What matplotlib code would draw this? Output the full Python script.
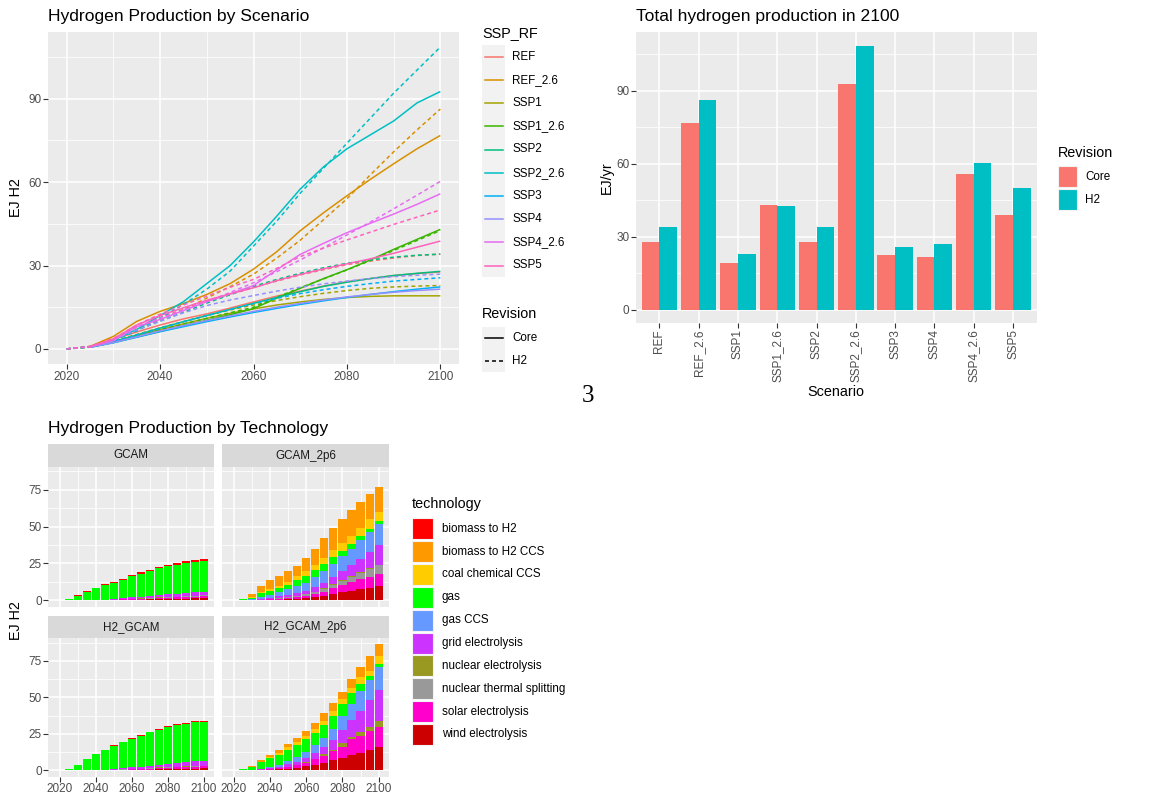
import matplotlib
matplotlib.use("Agg")
import matplotlib.pyplot as plt
from matplotlib.patches import Rectangle
import numpy as np

plt.rcParams['font.family'] = ['Liberation Sans', 'DejaVu Sans']

# ---------------------------------------------------------------- data
years_core = [2025, 2030, 2035, 2040, 2045, 2050, 2055, 2060,
              2065, 2070, 2075, 2080, 2085, 2090, 2095, 2100]
years_h2 = [2020] + years_core

scenarios = ["REF", "REF_2.6", "SSP1", "SSP1_2.6", "SSP2",
             "SSP2_2.6", "SSP3", "SSP4", "SSP4_2.6", "SSP5"]
scenario_colors = ["#F8766D", "#D89000", "#A3A500", "#39B600", "#00BF7D",
                   "#00BFC4", "#00B0F6", "#9590FF", "#E76BF3", "#FF62BC"]

# Core revision, 2025-2100
core_REF = [0.9, 3.4, 6.1, 8.6, 10.8, 12.6, 14.7, 16.9, 19.0, 20.8, 22.6, 24.2, 25.3, 26.4, 27.1, 27.7]
core_REF_26 = [0.9, 4.5, 9.9, 13.5, 16.3, 19.6, 23.5, 28.7, 35.0, 42.5, 49.0, 55.1, 61.0, 66.6, 72.0, 76.8]
core_SSP1 = [0.7, 2.6, 4.8, 7.0, 9.0, 11.0, 12.8, 14.4, 15.8, 16.9, 17.8, 18.5, 18.9, 19.1, 19.1, 19.1]
core_SSP1_26 = [0.6, 2.3, 4.3, 6.3, 8.3, 10.3, 12.3, 14.5, 18.3, 21.8, 25.3, 28.5, 32.0, 35.8, 39.4, 43.0]
core_SSP2 = [0.7, 2.6, 5.0, 7.5, 9.8, 12.0, 14.2, 16.4, 18.5, 20.6, 22.5, 24.0, 25.3, 26.4, 27.2, 27.9]
core_SSP2_26 = [0.8, 3.2, 7.0, 12.0, 17.0, 23.5, 30.0, 38.5, 47.8, 57.5, 65.5, 72.0, 77.0, 82.0, 88.5, 92.6]
core_SSP3 = [0.6, 2.2, 4.2, 6.2, 8.0, 9.8, 11.5, 13.1, 14.6, 16.0, 17.3, 18.5, 19.6, 20.6, 21.5, 22.3]
core_SSP4 = [0.6, 2.3, 4.4, 6.5, 8.4, 10.2, 11.9, 13.5, 15.0, 16.4, 17.6, 18.7, 19.6, 20.4, 21.0, 21.5]
core_SSP4_26 = [0.8, 3.0, 8.0, 10.6, 13.8, 17.0, 19.8, 22.8, 28.5, 34.0, 38.0, 41.8, 45.2, 48.5, 52.0, 55.8]
core_SSP5 = [0.8, 3.6, 8.6, 12.0, 14.8, 17.5, 19.8, 22.0, 24.6, 26.8, 28.8, 30.6, 32.4, 34.4, 36.6, 38.8]

# H2 revision, 2020-2100
h2_REF = [0.0, 0.9, 3.8, 7.7, 11.3, 14.2, 17.2, 19.6, 22.1, 24.4, 26.6, 28.5, 30.3, 31.6, 32.7, 33.6, 34.1]
h2_REF_26 = [0.0, 0.9, 2.9, 6.8, 10.6, 14.0, 18.3, 22.4, 26.9, 32.7, 39.1, 46.5, 54.0, 62.6, 70.9, 78.8, 86.3]
h2_SSP1 = [0.0, 0.7, 2.8, 5.2, 7.6, 9.8, 12.0, 14.0, 15.8, 17.4, 18.8, 20.0, 21.0, 21.8, 22.3, 22.6, 22.8]
h2_SSP1_26 = [0.0, 0.6, 2.5, 4.6, 6.8, 8.9, 11.0, 13.0, 15.0, 18.6, 22.0, 25.2, 28.4, 31.8, 35.4, 39.0, 42.6]
h2_SSP2 = [0.0, 0.8, 3.3, 6.8, 10.0, 13.2, 16.5, 19.5, 22.5, 25.0, 27.2, 29.2, 30.8, 32.0, 33.0, 33.7, 34.1]
h2_SSP2_26 = [0.0, 0.8, 3.0, 6.5, 11.0, 16.0, 21.5, 28.0, 37.0, 46.0, 56.0, 65.0, 74.0, 83.0, 92.0, 100.3, 108.6]
h2_SSP3 = [0.0, 0.7, 2.6, 5.0, 7.4, 9.8, 12.0, 14.2, 16.3, 18.2, 19.9, 21.3, 22.5, 23.5, 24.4, 25.0, 25.6]
h2_SSP4 = [0.0, 0.8, 3.3, 6.8, 10.0, 13.0, 15.6, 17.6, 19.2, 20.8, 22.2, 23.4, 24.4, 25.3, 26.0, 26.5, 26.9]
h2_SSP4_26 = [0.0, 0.8, 3.4, 8.0, 11.0, 14.0, 17.0, 20.3, 23.8, 27.8, 32.0, 36.4, 41.0, 45.6, 50.4, 55.3, 60.3]
h2_SSP5 = [0.0, 0.8, 3.6, 8.6, 12.5, 15.8, 19.0, 22.2, 25.0, 29.0, 33.2, 36.3, 39.2, 42.0, 44.8, 47.4, 50.0]

core_series = [core_REF, core_REF_26, core_SSP1, core_SSP1_26, core_SSP2,
               core_SSP2_26, core_SSP3, core_SSP4, core_SSP4_26, core_SSP5]
h2_series = [h2_REF, h2_REF_26, h2_SSP1, h2_SSP1_26, h2_SSP2,
             h2_SSP2_26, h2_SSP3, h2_SSP4, h2_SSP4_26, h2_SSP5]

revisions = ["Core", "H2"]
revision_colors = ["#F8766D", "#00BFC4"]

# Technology mix by model run (EJ), 2025-2100
technologies = ["biomass to H2", "biomass to H2 CCS", "coal chemical CCS", "gas",
                "gas CCS", "grid electrolysis", "nuclear electrolysis",
                "nuclear thermal splitting", "solar electrolysis", "wind electrolysis"]
tech_colors = ["#FF0000", "#FF9900", "#FFCC00", "#00FF00", "#6699FF",
               "#CC33FF", "#999922", "#999999", "#FF00CC", "#CC0000"]

gcam = {
    "biomass to H2":             [0.1, 0.3, 0.4, 0.5, 0.6, 0.6, 0.7, 0.7, 0.8, 0.8, 0.9, 0.9, 1.0, 1.0, 1.1, 1.2],
    "biomass to H2 CCS":         [0.0] * 16,
    "coal chemical CCS":         [0.0] * 16,
    "gas":                       [0.8, 3.1, 5.6, 7.7, 9.7, 11.0, 12.55, 14.25, 15.8, 17.2, 18.15, 19.3, 19.9, 20.4, 20.6, 20.5],
    "gas CCS":                   [0.0] * 16,
    "grid electrolysis":         [0.0, 0.0, 0.1, 0.2, 0.3, 0.5, 0.7, 0.9, 1.1, 1.3, 1.6, 1.8, 2.0, 2.2, 2.4, 2.6],
    "nuclear electrolysis":      [0.0, 0.0, 0.0, 0.0, 0.0, 0.0, 0.05, 0.1, 0.1, 0.1, 0.1, 0.1, 0.1, 0.1, 0.1, 0.1],
    "nuclear thermal splitting": [0.0, 0.0, 0.0, 0.0, 0.0, 0.1, 0.1, 0.15, 0.2, 0.2, 0.25, 0.3, 0.3, 0.3, 0.3, 0.3],
    "solar electrolysis":        [0.0, 0.0, 0.0, 0.1, 0.1, 0.2, 0.3, 0.4, 0.5, 0.6, 0.8, 0.9, 1.0, 1.2, 1.3, 1.5],
    "wind electrolysis":         [0.0, 0.0, 0.0, 0.1, 0.1, 0.2, 0.3, 0.4, 0.5, 0.6, 0.8, 0.9, 1.0, 1.2, 1.3, 1.5],
}
gcam_2p6 = {
    "biomass to H2":             [0.0] * 16,
    "biomass to H2 CCS":         [0.1, 2.5, 4.1, 5.8, 6.3, 6.9, 7.3, 8.9, 10.7, 13.5, 15.0, 16.1, 17.2, 17.6, 17.0, 16.9],
    "coal chemical CCS":         [0.0, 0.4, 1.1, 1.4, 1.8, 2.2, 2.6, 3.0, 3.8, 4.3, 4.9, 5.4, 5.6, 5.3, 6.3, 6.3],
    "gas":                       [0.8, 0.9, 2.4, 2.5, 2.3, 3.0, 4.2, 4.8, 5.0, 5.0, 4.5, 3.8, 3.2, 3.0, 2.3, 1.7],
    "gas CCS":                   [0.0, 0.4, 1.5, 2.3, 3.2, 4.0, 4.6, 5.5, 6.5, 7.8, 8.8, 10.0, 11.2, 12.6, 13.6, 14.5],
    "grid electrolysis":         [0.0, 0.1, 0.3, 0.6, 1.2, 1.4, 1.8, 2.3, 3.0, 3.6, 4.8, 6.0, 7.3, 9.0, 11.2, 13.3],
    "nuclear electrolysis":      [0.0, 0.0, 0.0, 0.0, 0.1, 0.1, 0.2, 0.2, 0.3, 0.3, 0.3, 0.4, 0.4, 0.4, 0.4, 0.4],
    "nuclear thermal splitting": [0.0, 0.0, 0.1, 0.2, 0.4, 0.6, 0.8, 1.0, 1.4, 2.0, 2.6, 3.2, 3.9, 4.5, 5.1, 5.7],
    "solar electrolysis":        [0.0, 0.1, 0.2, 0.4, 0.6, 0.8, 1.1, 1.6, 2.3, 3.0, 3.9, 4.8, 5.7, 6.7, 7.4, 8.1],
    "wind electrolysis":         [0.0, 0.1, 0.2, 0.3, 0.4, 0.6, 0.9, 1.4, 2.0, 3.0, 4.2, 5.4, 6.5, 7.5, 8.7, 9.9],
}
h2_gcam = {
    "biomass to H2":             [0.0, 0.1, 0.2, 0.3, 0.3, 0.4, 0.4, 0.4, 0.5, 0.5, 0.5, 0.6, 0.6, 0.6, 0.7, 0.7],
    "biomass to H2 CCS":         [0.0] * 16,
    "coal chemical CCS":         [0.0] * 16,
    "gas":                       [0.9, 3.7, 7.4, 10.8, 13.3, 15.7, 17.6, 19.6, 21.3, 23.0, 24.1, 25.2, 26.0, 26.6, 26.7, 26.7],
    "gas CCS":                   [0.0] * 16,
    "grid electrolysis":         [0.0, 0.0, 0.1, 0.2, 0.4, 0.6, 0.8, 1.0, 1.3, 1.6, 1.9, 2.2, 2.5, 2.8, 3.1, 3.4],
    "nuclear electrolysis":      [0.0, 0.0, 0.0, 0.0, 0.0, 0.0, 0.1, 0.1, 0.1, 0.1, 0.1, 0.2, 0.2, 0.2, 0.2, 0.2],
    "nuclear thermal splitting": [0.0, 0.0, 0.0, 0.0, 0.0, 0.1, 0.1, 0.2, 0.2, 0.2, 0.3, 0.3, 0.3, 0.3, 0.3, 0.3],
    "solar electrolysis":        [0.0, 0.0, 0.0, 0.0, 0.1, 0.2, 0.3, 0.4, 0.5, 0.6, 0.8, 0.9, 1.0, 1.1, 1.3, 1.4],
    "wind electrolysis":         [0.0, 0.0, 0.0, 0.0, 0.1, 0.2, 0.3, 0.4, 0.5, 0.6, 0.8, 0.9, 1.0, 1.1, 1.3, 1.4],
}
h2_gcam_2p6 = {
    "biomass to H2":             [0.0] * 16,
    "biomass to H2 CCS":         [0.1, 0.3, 0.7, 1.2, 1.9, 2.6, 3.0, 3.4, 4.2, 5.0, 6.0, 5.0, 6.1, 6.8, 10.6, 7.9],
    "coal chemical CCS":         [0.0, 0.2, 0.6, 0.9, 1.3, 1.6, 1.9, 2.3, 2.6, 3.0, 3.3, 3.4, 3.6, 4.5, 3.4, 5.2],
    "gas":                       [0.7, 1.8, 4.2, 6.0, 6.8, 7.8, 8.6, 8.8, 8.8, 8.8, 9.0, 8.6, 7.2, 5.4, 2.5, 2.7],
    "gas CCS":                   [0.1, 0.3, 0.6, 1.0, 1.5, 2.2, 3.0, 4.0, 5.2, 6.3, 7.6, 9.5, 11.3, 13.5, 14.0, 15.4],
    "grid electrolysis":         [0.0, 0.1, 0.3, 0.6, 1.0, 1.5, 2.0, 2.7, 3.8, 4.9, 6.4, 8.4, 11.7, 14.2, 18.5, 21.5],
    "nuclear electrolysis":      [0.0, 0.0, 0.0, 0.1, 0.1, 0.2, 0.3, 0.4, 0.6, 0.9, 1.2, 2.9, 1.4, 2.9, 2.3, 3.8],
    "nuclear thermal splitting": [0.0] * 16,
    "solar electrolysis":        [0.0, 0.1, 0.2, 0.4, 0.7, 1.2, 1.8, 2.6, 3.6, 4.8, 6.2, 7.4, 10.6, 11.3, 13.1, 14.0],
    "wind electrolysis":         [0.0, 0.1, 0.2, 0.4, 0.7, 1.2, 1.8, 2.7, 3.9, 5.4, 6.8, 8.8, 10.6, 12.2, 14.0, 15.8],
}
facet_names = ["GCAM", "GCAM_2p6", "H2_GCAM", "H2_GCAM_2p6"]
facet_data = [gcam, gcam_2p6, h2_gcam, h2_gcam_2p6]

# ---------------------------------------------------------------- layout helpers
W, H = 1162, 796
fig = plt.figure(figsize=(W / 100, H / 100), dpi=100)
fig.patch.set_facecolor("white")

PANEL = "#EBEBEB"
AXIS_TXT = "#4D4D4D"
TICK_COL = "#333333"
KEY_BG = "#F2F2F2"
STRIP = "#D9D9D9"
TICK_FS = 8.5
LEG_FS = 8.4
TITLE_FS = 12.6
LAB_FS = 10.4


def px_axes(x0, y0, x1, y1):
    return fig.add_axes([x0 / W, 1 - y1 / H, (x1 - x0) / W, (y1 - y0) / H])


def gg_style(ax, xmajor, xminor, ymajor, yminor, show_x=True, show_y=True):
    ax.set_facecolor(PANEL)
    for s in ax.spines.values():
        s.set_visible(False)
    ax.set_xticks(xmajor)
    ax.set_xticks(xminor, minor=True)
    ax.set_yticks(ymajor)
    ax.set_yticks(yminor, minor=True)
    ax.grid(True, which="major", color="white", lw=1.1)
    ax.grid(True, which="minor", color="white", lw=0.55)
    ax.set_axisbelow(True)
    ax.tick_params(which="major", length=3.3, width=0.8, color=TICK_COL,
                   labelsize=TICK_FS, labelcolor=AXIS_TXT, pad=1.4)
    ax.tick_params(which="minor", length=0)
    if not show_x:
        ax.tick_params(axis="x", which="major", length=0, labelbottom=False)
    if not show_y:
        ax.tick_params(axis="y", which="major", length=0, labelleft=False)


# overlay in pixel coordinates for titles and legends
ov = fig.add_axes([0, 0, 1, 1], zorder=10)
ov.set_xlim(0, W)
ov.set_ylim(H, 0)
ov.axis("off")

# ---------------------------------------------------------------- panel: lines by scenario
axA = px_axes(48, 32, 459, 364)
gg_style(axA, [2020, 2040, 2060, 2080, 2100], [2030, 2050, 2070, 2090],
         [0, 30, 60, 90], [15, 45, 75, 105])
for name, col, cs, hs in zip(scenarios, scenario_colors, core_series, h2_series):
    axA.plot(years_core, cs, color=col, lw=1.1, solid_capstyle="butt")
    axA.plot(years_h2, hs, color=col, lw=1.1, linestyle=(0, (2.6, 2.0)),
             dash_capstyle="butt")
axA.set_xlim(2016, 2104)
axA.set_ylim(-5.43, 114.03)

ov.text(48, 20.7, "Hydrogen Production by Scenario", fontsize=TITLE_FS, va="baseline", ha="left")
ov.text(16.5, 198, "EJ H2", fontsize=LAB_FS, rotation=90, va="center", ha="center")

# legend: scenario colours
ov.text(482.3, 37.3, "SSP_RF", fontsize=LAB_FS, va="baseline", ha="left")
key_h = 23.2
ov.add_patch(Rectangle((482, 56.7 - key_h / 2), 23, key_h * len(scenarios),
                       facecolor=KEY_BG, edgecolor="none"))
for i, (name, col) in enumerate(zip(scenarios, scenario_colors)):
    yc = 56.7 + i * key_h
    ov.plot([485, 503], [yc, yc], color=col, lw=1.1)
    ov.text(512.3, yc, name, fontsize=LEG_FS, va="center", ha="left")

# legend: revision line types
ov.text(482.3, 318.3, "Revision", fontsize=LAB_FS, va="baseline", ha="left")
ov.add_patch(Rectangle((482, 326.8), 23, 45.6, facecolor=KEY_BG, edgecolor="none"))
for i, (rev, ls) in enumerate(zip(revisions, ["-", (0, (2.6, 2.0))])):
    yc = 338.3 + i * 22.7
    ov.plot([485, 503], [yc, yc], color="black", lw=1.1, linestyle=ls)
    ov.text(512.3, yc, rev, fontsize=LEG_FS, va="center", ha="left")

# ---------------------------------------------------------------- panel: totals in 2100
axB = px_axes(635.7, 32.3, 1036.7, 322.7)
pos = np.arange(1, len(scenarios) + 1)
gg_style(axB, pos, [], [0, 30, 60, 90], [15, 45, 75, 105])
core_2100 = [s[-1] for s in core_series]
h2_2100 = [s[-1] for s in h2_series]
axB.bar(pos - 0.225, core_2100, width=0.45, color=revision_colors[0], edgecolor="none")
axB.bar(pos + 0.225, h2_2100, width=0.45, color=revision_colors[1], edgecolor="none")
axB.set_xlim(0.4, len(scenarios) + 0.6)
axB.set_ylim(-5.43, 114.03)
axB.set_xticklabels(scenarios, rotation=90, ha="center", va="top")

ov.text(635.7, 20.7, "Total hydrogen production in 2100", fontsize=TITLE_FS, va="baseline", ha="left")
ov.text(606.5, 177.5, "EJ/yr", fontsize=LAB_FS, rotation=90, va="center", ha="center")
ov.text(836, 391.5, "Scenario", fontsize=LAB_FS, va="center", ha="center")

ov.text(1057.7, 156.7, "Revision", fontsize=LAB_FS, va="baseline", ha="left")
for i, (rev, col) in enumerate(zip(revisions, revision_colors)):
    yc = 176.7 + i * 23
    ov.add_patch(Rectangle((1058.3, yc - 10.5), 18.5, 21, facecolor=col,
                           edgecolor=KEY_BG, lw=0.8))
    ov.text(1085, yc, rev, fontsize=LEG_FS, va="center", ha="left")

# ---------------------------------------------------------------- panel: technology facets
stack_order = technologies[::-1]  # first level sits on top of the stack
facet_boxes = [(48.3, 444.3, 214.3, 606.7), (222.3, 444.3, 389, 606.7),
               (48.3, 615.7, 214.3, 776.7), (222.3, 615.7, 389, 776.7)]
strip_h = 22.4
for k, (fname, fdata, box) in enumerate(zip(facet_names, facet_data, facet_boxes)):
    x0, y0, x1, y1 = box
    ax = px_axes(x0, y0 + strip_h, x1, y1)
    gg_style(ax, [2020, 2040, 2060, 2080, 2100], [2030, 2050, 2070, 2090],
             [0, 25, 50, 75], [12.5, 37.5, 62.5, 87.5],
             show_x=(k >= 2), show_y=(k % 2 == 0))
    bottom = np.zeros(len(years_core))
    for tech in stack_order:
        vals = np.array(fdata[tech])
        col = tech_colors[technologies.index(tech)]
        ax.bar(years_core, vals, bottom=bottom, width=4.5, color=col,
               edgecolor="none")
        bottom += vals
    ax.set_xlim(2013.7, 2105.7)
    ax.set_ylim(-4.3, 90.6)
    # facet strip
    ov.add_patch(Rectangle((x0, y0), x1 - x0, strip_h, facecolor=STRIP, edgecolor="none"))
    ov.text((x0 + x1) / 2, y0 + strip_h / 2, fname, fontsize=LEG_FS, color="#1A1A1A",
            va="center", ha="center")

ov.text(48, 432.7, "Hydrogen Production by Technology", fontsize=TITLE_FS, va="baseline", ha="left")
ov.text(16, 621, "EJ H2", fontsize=LAB_FS, rotation=90, va="center", ha="center")

ov.text(411.7, 508.3, "technology", fontsize=LAB_FS, va="baseline", ha="left")
for i, (tech, col) in enumerate(zip(technologies, tech_colors)):
    yc = 528.8 + i * 22.84
    ov.add_patch(Rectangle((411.7, yc - 10.5), 21.6, 21, facecolor=col,
                           edgecolor=KEY_BG, lw=0.8))
    ov.text(441.7, yc, tech, fontsize=LEG_FS, va="center", ha="left")

# figure label
ov.text(588, 396, "3", fontsize=18, family=["Liberation Serif", "DejaVu Serif"],
        va="center", ha="center")

fig.savefig("out.png", dpi=100, facecolor="white")
